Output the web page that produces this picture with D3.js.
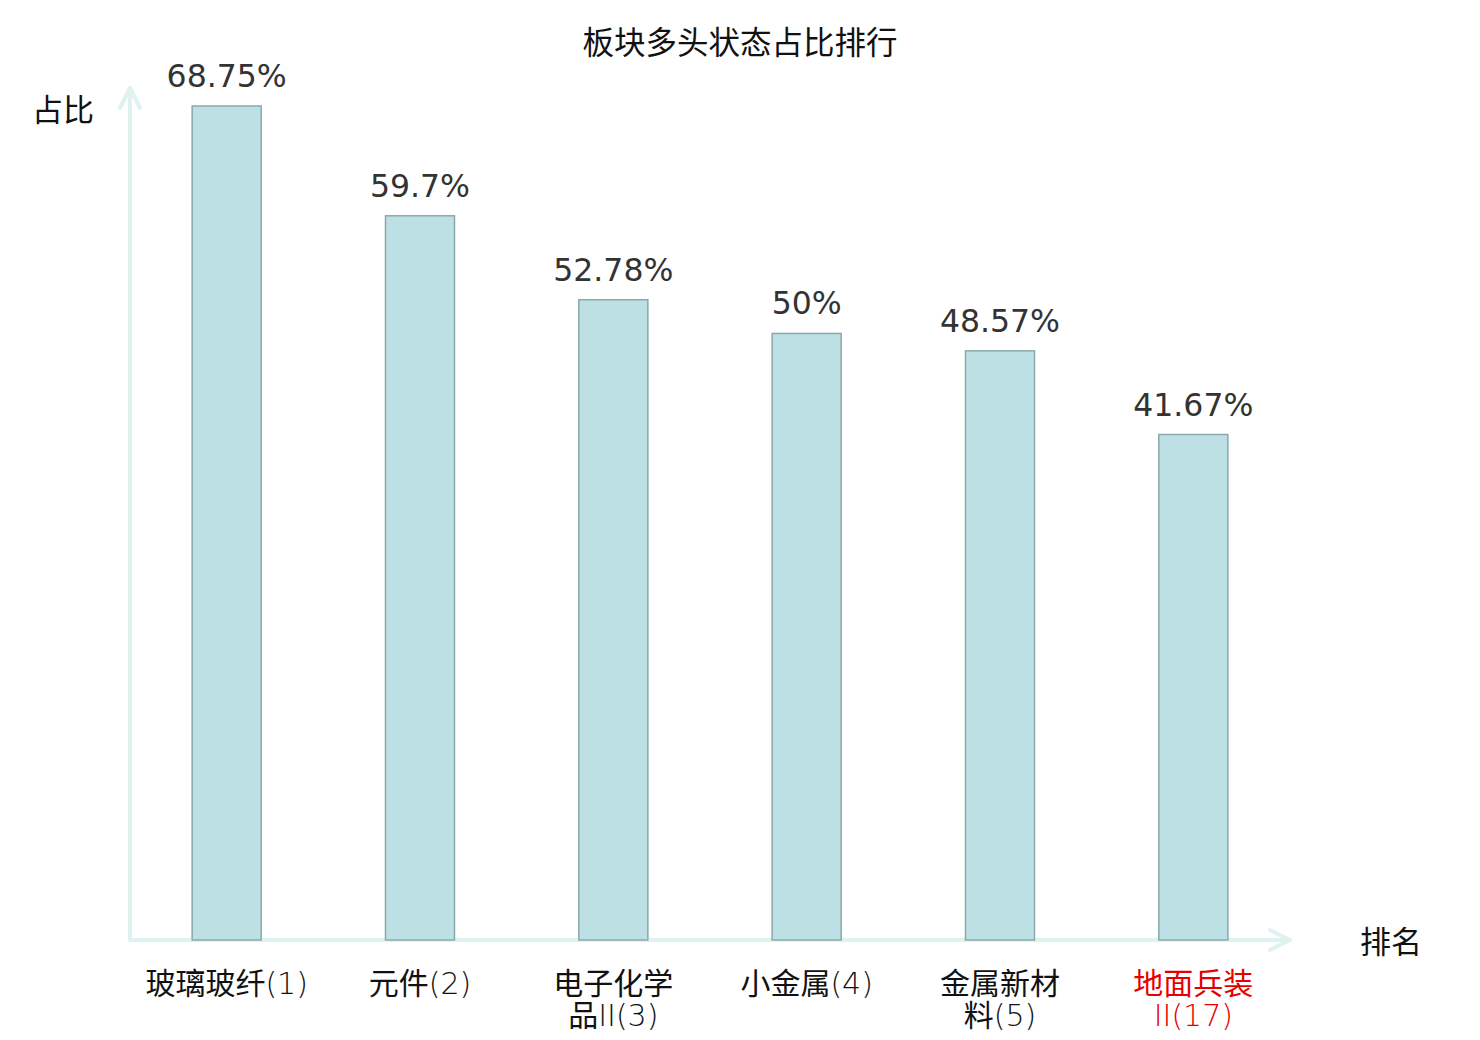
<!DOCTYPE html>
<html>
<head>
<meta charset="utf-8">
<script src="https://cdn.jsdelivr.net/npm/d3@7"></script>
<style>
  body { margin: 0; background: #fff; }
</style>
</head>
<body>
<div id="chart"></div>
<script>
const categories = ["玻璃玻纤(1)", "元件(2)", "电子化学品II(3)", "小金属(4)", "金属新材料(5)", "地面兵装II(17)"];
const tickLines = [["玻璃玻纤(1)"], ["元件(2)"], ["电子化学", "品II(3)"], ["小金属(4)"], ["金属新材", "料(5)"], ["地面兵装", "II(17)"]];
const values = [68.75, 59.7, 52.78, 50, 48.57, 41.67];
const highlighted = ["地面兵装II(17)"];

const W = 1480, H = 1040;
const x0 = 130, x1 = 1290, yBase = 940, yTop = 106;
const cjk = "'Noto Sans CJK SC', 'Noto Sans', sans-serif";
const axisColor = "#def2ef";

const svg = d3.select("#chart").append("svg")
    .attr("width", W)
    .attr("height", H);

const x = d3.scaleBand()
    .domain(categories)
    .range([x0, x1])
    .paddingInner(0.643)
    .paddingOuter(0.3215);

const y = d3.scaleLinear()
    .domain([0, d3.max(values)])
    .range([yBase, yTop]);

// titulo
svg.append("text")
    .attr("x", 740).attr("y", 54)
    .attr("text-anchor", "middle")
    .style("font-family", cjk)
    .style("font-size", "31.5px")
    .attr("fill", "#111")
    .text("板块多头状态占比排行");

// ejes con flecha
const axes = svg.append("g")
    .attr("fill", "none")
    .attr("stroke", axisColor)
    .attr("stroke-width", 4)
    .attr("stroke-linecap", "round")
    .attr("stroke-linejoin", "round");
axes.append("path").attr("d", `M${x0},${yBase}V88`);
axes.append("path").attr("d", `M${x0 - 10},108L${x0},88L${x0 + 10},108`);
axes.append("path").attr("d", `M${x0},${yBase}H${x1}`);
axes.append("path").attr("d", `M${x1 - 20},${yBase - 10}L${x1},${yBase}L${x1 - 20},${yBase + 10}`);

svg.append("text")
    .attr("x", 63).attr("y", 121)
    .attr("text-anchor", "middle")
    .style("font-family", cjk)
    .style("font-size", "31px")
    .attr("fill", "#111")
    .text("占比");

svg.append("text")
    .attr("x", 1391).attr("y", 953)
    .attr("text-anchor", "middle")
    .style("font-family", cjk)
    .style("font-size", "31px")
    .attr("fill", "#111")
    .text("排名");

// barras
svg.selectAll("rect.bar")
    .data(values)
    .enter()
    .append("rect")
    .attr("class", "bar")
    .attr("x", (d, i) => x(categories[i]))
    .attr("y", d => y(d))
    .attr("width", x.bandwidth())
    .attr("height", d => yBase - y(d))
    .attr("fill", "#bce0e3")
    .attr("stroke", "#8aa9aa")
    .attr("stroke-width", 1.5);

svg.selectAll("text.val")
    .data(values)
    .enter()
    .append("text")
    .attr("class", "val")
    .attr("x", (d, i) => x(categories[i]) + x.bandwidth() / 2)
    .attr("y", d => y(d) - 19)
    .attr("text-anchor", "middle")
    .style("font-family", "'DejaVu Sans', sans-serif")
    .style("font-size", "31.5px")
    .attr("fill", "#333")
    .text(d => d + "%");

// etiquetas del eje x: una linea por texto, parte latina en fuente fina
tickLines.forEach((lines, i) => {
    const cx = x(categories[i]) + x.bandwidth() / 2;
    lines.forEach((line, j) => {
        const t = svg.append("text")
            .attr("class", "tick")
            .attr("x", cx)
            .attr("y", 994 + j * 32)
            .attr("text-anchor", "middle")
            .style("font-family", cjk)
            .style("font-size", "30px")
            .attr("fill", highlighted.includes(categories[i]) ? "#e60000" : "#111");
        line.split(/([\u4e00-\u9fff]+)/).filter(s => s).forEach(part => {
            const isCjk = /[\u4e00-\u9fff]/.test(part);
            t.append("tspan")
                .style("font-family", isCjk ? cjk : "'DejaVu Sans', sans-serif")
                .style("font-weight", isCjk ? 400 : 200)
                .text(part);
        });
    });
});
</script>
</body>
</html>
